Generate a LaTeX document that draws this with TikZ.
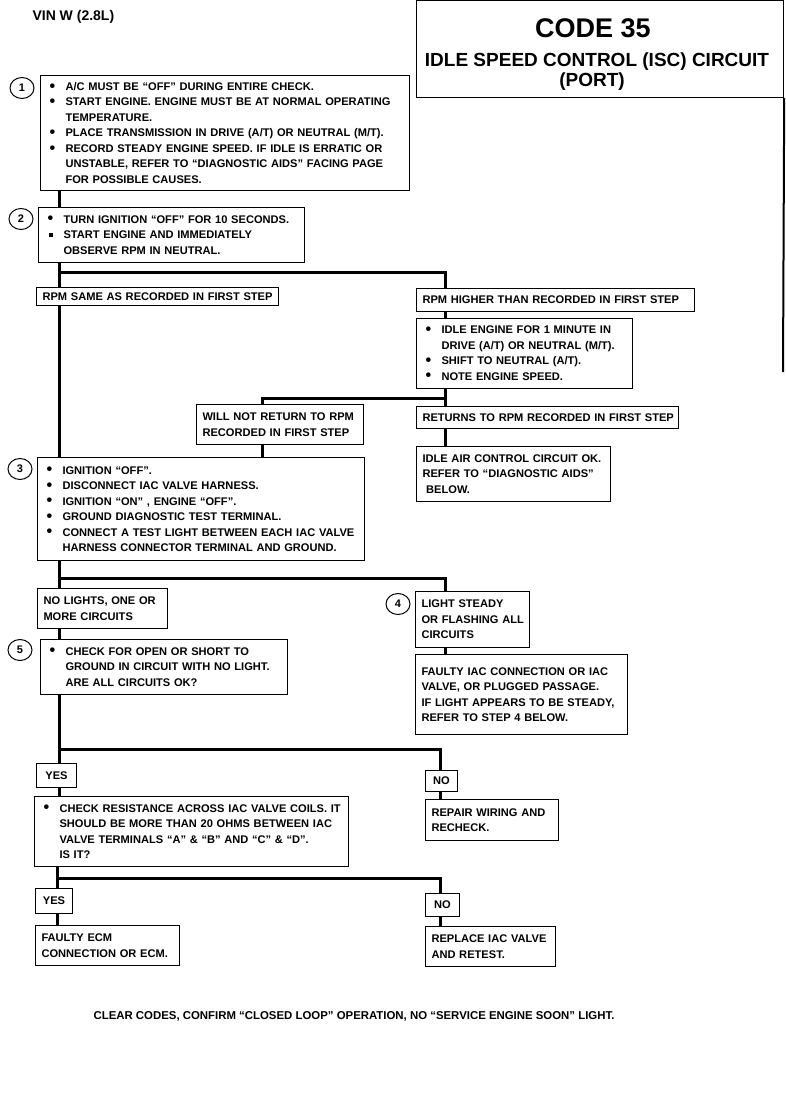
\documentclass[tikz,border=0pt]{standalone}
\usepackage{fontspec}
\setmainfont{Liberation Sans}
\usetikzlibrary{shapes.geometric}
\newcommand{\BulMark}{\raisebox{-0.6pt}{\scalebox{1.45}{\textbullet}}}
\newcommand{\Bul}[1]{\makebox[19pt][l]{\hspace{3pt}\BulMark}\mbox{#1}}
\newcommand{\SqBul}[1]{\makebox[19pt][l]{\hspace{4pt}\rule[1.5pt]{4.5pt}{4.5pt}}\mbox{#1}}
\newcommand{\Cont}[1]{\hspace*{19pt}\mbox{#1}}
\newcommand{\Ln}[1]{\mbox{#1}}
\begin{document}
\begin{tikzpicture}[x=1pt,y=-1pt,
  box/.style={draw, line width=1pt, anchor=north west, inner xsep=6pt, inner ysep=2pt,
    align=left, font=\fontsize{11.1}{15.5}\selectfont\bfseries},
  cbox/.style={box, align=center},
  conn/.style={line width=3pt},
  num/.style={draw, ellipse, line width=1pt, minimum width=24pt, minimum height=21pt,
    inner sep=0pt, font=\fontsize{11}{13}\selectfont\bfseries}]
\useasboundingbox (0,0) rectangle (786,1100);
\fill[white] (0,0) rectangle (786,1100);

% header
\node[anchor=west, font=\fontsize{14}{16}\selectfont\bfseries] (vin) at (29,17) {VIN W (2.8L)};
\node[draw, line width=1.2pt, anchor=north west, minimum width=367pt, minimum height=97pt, inner sep=0pt] (title) at (416,0) {};
\node[font=\fontsize{27}{30}\selectfont\bfseries] (code) at (593,28) {CODE 35};
\node[font=\fontsize{19}{22}\selectfont\bfseries] (isc) at (597,62) {IDLE SPEED CONTROL (ISC) CIRCUIT};
\node[font=\fontsize{19}{22}\selectfont\bfseries] (port) at (592,82) {(PORT)};
\coordinate (redge) at (783,372);
\draw[line width=2pt] (title.south east) -- (redge);

% step 1
\node[num] (c1) at (22,88) {1};
\node[box, minimum width=369pt, minimum height=115pt, text width=357pt] (b1) at (40,75) {%
\Bul{A/C MUST BE “OFF” DURING ENTIRE CHECK.}\\
\Bul{START ENGINE.  ENGINE MUST BE AT NORMAL OPERATING}\\
\Cont{TEMPERATURE.}\\
\Bul{PLACE TRANSMISSION IN DRIVE (A/T) OR NEUTRAL (M/T).}\\
\Bul{RECORD STEADY ENGINE SPEED.  IF IDLE IS ERRATIC OR}\\
\Cont{UNSTABLE, REFER TO “DIAGNOSTIC AIDS” FACING PAGE}\\
\Cont{FOR POSSIBLE CAUSES.}};

% step 2
\node[num] (c2) at (21,219) {2};
\node[box, minimum width=266pt, minimum height=55pt, text width=254pt] (b2) at (38,207) {%
\Bul{TURN IGNITION “OFF”  FOR 10 SECONDS.}\\
\SqBul{START ENGINE  AND IMMEDIATELY}\\
\Cont{OBSERVE RPM IN NEUTRAL.}};

\node[box, minimum width=242pt, minimum height=18pt, text width=230pt] (same) at (36,287) {\Ln{RPM SAME AS RECORDED IN FIRST STEP}};
\node[box, minimum width=278pt, minimum height=23pt, text width=266pt] (higher) at (416,288) {\Ln{RPM HIGHER THAN RECORDED IN FIRST STEP}};
\node[box, minimum width=216pt, minimum height=70pt, text width=204pt] (idle) at (416,318) {%
\Bul{IDLE ENGINE FOR 1 MINUTE  IN}\\
\Cont{DRIVE (A/T) OR NEUTRAL (M/T).}\\
\Bul{SHIFT TO NEUTRAL (A/T).}\\
\Bul{NOTE ENGINE SPEED.}};
\node[box, minimum width=167pt, minimum height=40pt, text width=155pt] (willnot) at (196,404) {%
\Ln{WILL NOT RETURN TO RPM}\\
\Ln{RECORDED  IN FIRST STEP}};
\node[box, minimum width=262pt, minimum height=22pt, text width=250pt] (returns) at (416,406) {\Ln{RETURNS TO RPM RECORDED IN FIRST STEP}};
\node[box, minimum width=194pt, minimum height=55pt, text width=182pt] (idleair) at (416,446) {%
\Ln{IDLE AIR CONTROL CIRCUIT OK.}\\
\Ln{REFER TO “DIAGNOSTIC AIDS”}\\
\Ln{ BELOW.}};

% step 3
\node[num] (c3) at (20,469) {3};
\node[box, minimum width=327pt, minimum height=103pt, text width=315pt] (b3) at (37,457) {%
\Bul{IGNITION “OFF”.}\\
\Bul{DISCONNECT IAC VALVE HARNESS.}\\
\Bul{IGNITION “ON” , ENGINE “OFF”.}\\
\Bul{GROUND DIAGNOSTIC TEST TERMINAL.}\\
\Bul{CONNECT A TEST LIGHT BETWEEN EACH IAC VALVE}\\
\Cont{HARNESS CONNECTOR TERMINAL AND GROUND.}};

\node[box, minimum width=130pt, minimum height=40pt, text width=118pt] (nolights) at (37,588) {%
\Ln{NO LIGHTS, ONE OR}\\
\Ln{MORE CIRCUITS}};
\node[num] (c4) at (398,604) {4};
\node[box, minimum width=114pt, minimum height=56pt, text width=102pt] (steady) at (415,591) {%
\Ln{LIGHT  STEADY}\\
\Ln{OR FLASHING ALL}\\
\Ln{CIRCUITS}};
\node[box, minimum width=212pt, minimum height=80pt, text width=200pt] (faulty) at (415,654) {%
\Ln{FAULTY IAC CONNECTION OR IAC}\\
\Ln{VALVE, OR PLUGGED PASSAGE.}\\
\Ln{IF LIGHT APPEARS TO BE STEADY,}\\
\Ln{REFER TO STEP 4    BELOW.}};

% step 5
\node[num] (c5) at (20,650) {5};
\node[box, minimum width=247pt, minimum height=55pt, text width=235pt] (b5) at (40,639) {%
\Bul{CHECK FOR OPEN OR SHORT TO}\\
\Cont{GROUND IN CIRCUIT WITH NO LIGHT.}\\
\Cont{ARE ALL CIRCUITS OK?}};

\node[cbox, minimum width=40pt, minimum height=24pt, text width=28pt] (yes1) at (36,763) {\Ln{YES}};
\node[cbox, minimum width=32pt, minimum height=21pt, text width=20pt] (no1) at (425,770) {\Ln{NO}};
\node[box, minimum width=133pt, minimum height=41pt, text width=121pt] (repair) at (425,799) {%
\Ln{REPAIR WIRING AND}\\
\Ln{RECHECK.}};
\node[box, minimum width=314pt, minimum height=70pt, text width=302pt] (check) at (34,796) {%
\Bul{CHECK RESISTANCE ACROSS IAC VALVE COILS.  IT}\\
\Cont{SHOULD BE MORE THAN 20 OHMS BETWEEN IAC}\\
\Cont{VALVE TERMINALS “A” \& “B” AND “C” \& “D”.}\\
\Cont{IS IT?}};
\node[cbox, minimum width=37pt, minimum height=25pt, text width=25pt] (yes2) at (35,888) {\Ln{YES}};
\node[cbox, minimum width=34pt, minimum height=23pt, text width=22pt] (no2) at (425,893) {\Ln{NO}};
\node[box, minimum width=144pt, minimum height=40pt, text width=132pt] (ecm) at (35,925) {%
\Ln{FAULTY ECM}\\
\Ln{CONNECTION OR ECM.}};
\node[box, minimum width=130pt, minimum height=40pt, text width=118pt] (replace) at (425,926) {%
\Ln{REPLACE IAC VALVE}\\
\Ln{AND RETEST.}};

\node[font=\fontsize{11.4}{13}\selectfont\bfseries] (footer) at (354,1016) {CLEAR CODES, CONFIRM “CLOSED LOOP” OPERATION, NO “SERVICE ENGINE SOON” LIGHT.};

% connectors
\coordinate (T) at (59,0);
\coordinate (R) at (445,0);
\coordinate (W) at (262,0);
\coordinate (Q) at (440,0);
\coordinate (br1) at (59,272);
\coordinate (br2) at (445,398);
\coordinate (br3) at (59,578);
\coordinate (br4) at (59,749);
\coordinate (br5) at (57,878);

\draw[conn] (b1.south -| T) -- (b2.north -| T);
\draw[conn] (b2.south -| T) -- (same.north -| T);
\draw[conn] (br1) -| (higher.north -| R);
\draw[conn] (same.south -| T) -- (b3.north -| T);
\draw[conn] (higher.south -| R) -- (idle.north -| R);
\draw[conn] (idle.south -| R) -- (returns.north -| R);
\draw[conn] (br2) -| (willnot.north -| W);
\draw[conn] (willnot.south -| W) -- (b3.north -| W);
\draw[conn] (returns.south -| R) -- (idleair.north -| R);
\draw[conn] (b3.south -| T) -- (nolights.north -| T);
\draw[conn] (br3) -| (steady.north -| R);
\draw[conn] (steady.south -| R) -- (faulty.north -| R);
\draw[conn] (nolights.south -| T) -- (b5.north -| T);
\draw[conn] (b5.south -| T) -- (yes1.north -| T);
\draw[conn] (br4) -| (no1.north -| Q);
\draw[conn] (no1.south -| Q) -- (repair.north -| Q);
\draw[conn] (yes1.south -| T) -- (check.north -| T);
\draw[conn] (check.south -| br5) -- (yes2.north -| br5);
\draw[conn] (br5) -| (no2.north -| Q);
\draw[conn] (yes2.south -| br5) -- (ecm.north -| br5);
\draw[conn] (no2.south -| Q) -- (replace.north -| Q);
\end{tikzpicture}
\end{document}
